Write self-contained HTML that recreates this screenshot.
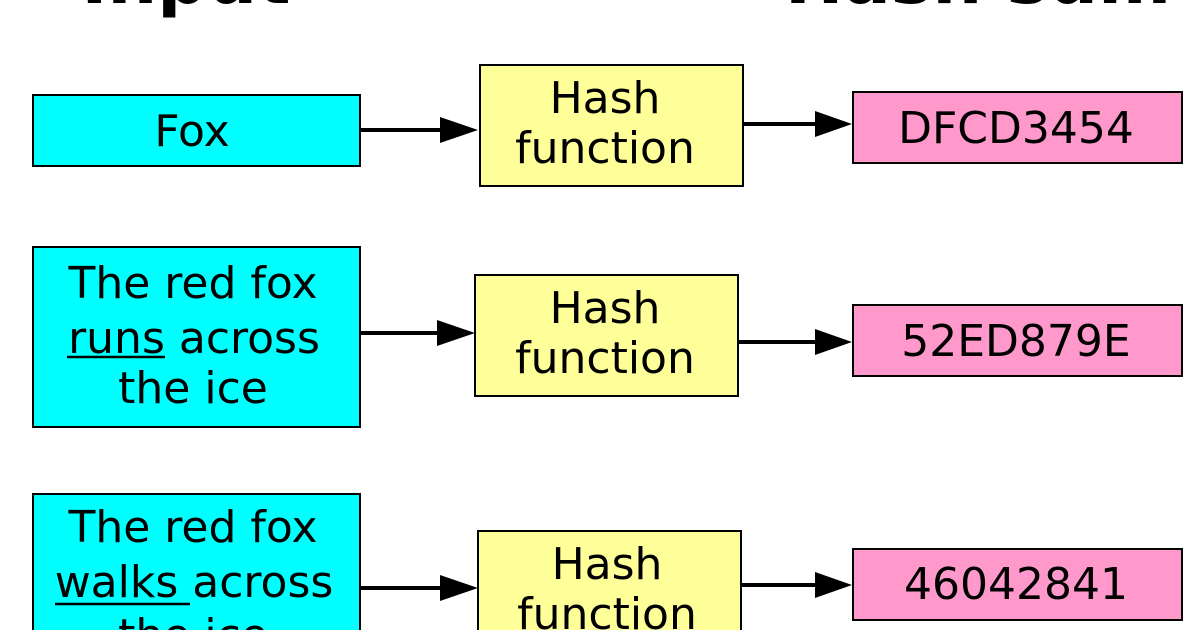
<!DOCTYPE html>
<html><head><meta charset="utf-8"><style>html,body{margin:0;padding:0;background:#fff;overflow:hidden}</style></head>
<body>
<svg width="1200" height="630" viewBox="0 0 1200 630" xmlns="http://www.w3.org/2000/svg" font-family="DejaVu Sans, Liberation Sans, sans-serif">
<rect width="1200" height="630" fill="#fff"/>
<g font-weight="bold" font-size="70" text-anchor="middle" fill="#000">
<text x="186" y="3">Input</text>
<text x="978" y="3">Hash sum</text>
</g>
<g stroke="#000" stroke-width="2">
<rect x="33" y="95" width="327" height="71" fill="#00ffff"/>
<rect x="480" y="65" width="263" height="121" fill="#ffff99"/>
<rect x="853" y="92" width="329" height="71" fill="#ff99cc"/>
<rect x="33" y="247" width="327" height="180" fill="#00ffff"/>
<rect x="475" y="275" width="263" height="121" fill="#ffff99"/>
<rect x="853" y="305" width="329" height="71" fill="#ff99cc"/>
<rect x="33" y="494" width="327" height="220" fill="#00ffff"/>
<rect x="478" y="531" width="263" height="121" fill="#ffff99"/>
<rect x="853" y="549" width="329" height="71" fill="#ff99cc"/>
</g>
<g stroke="#000" stroke-width="4">
<line x1="360" y1="130" x2="442" y2="130"/>
<line x1="743" y1="124" x2="817" y2="124"/>
<line x1="360" y1="333" x2="440" y2="333"/>
<line x1="738" y1="342" x2="817" y2="342"/>
<line x1="360" y1="588" x2="442" y2="588"/>
<line x1="741" y1="585" x2="817" y2="585"/>
</g>
<g fill="#000">
<polygon points="440,117 478,130 440,143"/>
<polygon points="815,111 852,124 815,137"/>
<polygon points="437,320 475,333 437,346"/>
<polygon points="815,329 852,342 815,355"/>
<polygon points="440,575 478,588 440,601"/>
<polygon points="815,572 852,585 815,598"/>
</g>
<g font-size="44" text-anchor="middle" fill="#000">
<text x="192" y="146">Fox</text>
<text x="605" y="113">Hash</text>
<text x="605" y="163">function</text>
<text x="1016" y="143">DFCD3454</text>
<text x="193" y="298">The red fox</text>
<text x="194" y="353">runs across</text>
<text x="193" y="403">the ice</text>
<text x="605" y="323">Hash</text>
<text x="605" y="373">function</text>
<text x="1016" y="356">52ED879E</text>
<text x="193" y="542">The red fox</text>
<text x="194" y="597">walks across</text>
<text x="193" y="650">the ice</text>
<text x="607" y="579">Hash</text>
<text x="607" y="629">function</text>
<text x="1016" y="599">46042841</text>
</g>
<g stroke="#000" stroke-width="2.5">
<line x1="67" y1="357" x2="165" y2="357"/>
<line x1="55" y1="604" x2="190" y2="604"/>
</g>
</svg>
</body></html>
